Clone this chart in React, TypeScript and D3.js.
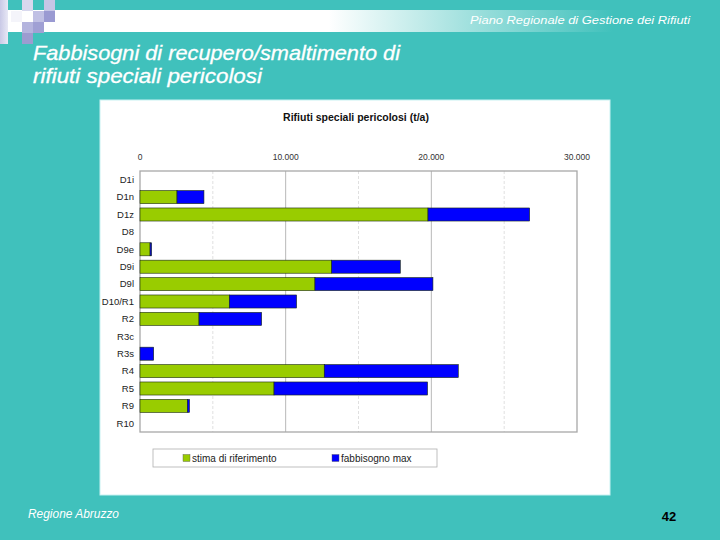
import React from "react";
import * as d3 from "d3";

const categories = ["D1i", "D1n", "D1z", "D8", "D9e", "D9i", "D9l", "D10/R1", "R2", "R3c", "R3s", "R4", "R5", "R9", "R10"];
const stima = [0, 2540, 19770, 0, 690, 13160, 12010, 6130, 4050, 0, 0, 12650, 9200, 3250, 0];
const fabbisogno = [0, 1850, 6980, 0, 110, 4710, 8100, 4620, 4300, 0, 940, 9200, 10540, 150, 0];
const xTicks = [0, 10000, 20000, 30000];
const minorTicks = [5000, 15000, 25000];
const seriesNames = ["stima di riferimento", "fabbisogno max"];
const seriesColors = ["#99cc00", "#0000ff"];

const BG = "#40c1bc";
const SANS = "'Liberation Sans', Arial, sans-serif";

export default function App() {
  const x = d3.scaleLinear().domain([0, 30000]).range([140, 577]);
  const y = d3.scaleBand().domain(categories).range([171, 432]).paddingInner(0.25).paddingOuter(0.125);
  const fmt = (v: number) => (v === 0 ? "0" : d3.format(",")(v).replace(/,/g, "."));
  const stackData = categories.map((c, i) => ({ cat: c, s0: stima[i], s1: fabbisogno[i] }));
  const stacked = d3.stack<any>().keys(["s0", "s1"])(stackData);

  return (
    <svg width={720} height={540} style={{ position: "absolute", left: 0, top: 0 }}>
      <defs>
        <linearGradient id="hdr" x1="0" x2="1" y1="0" y2="0">
          <stop offset="0" stopColor="#ffffff" />
          <stop offset="0.45" stopColor="#ffffff" />
          <stop offset="0.85" stopColor={BG} />
          <stop offset="1" stopColor={BG} />
        </linearGradient>
        <linearGradient id="strip" x1="0" x2="1" y1="0" y2="0">
          <stop offset="0" stopColor="#c9c9e6" />
          <stop offset="1" stopColor="#e8e8f5" />
        </linearGradient>
      </defs>
      <rect x={0} y={0} width={720} height={540} fill={BG} />
      {/* header band */}
      <rect x={8} y={10} width={712} height={22} fill="url(#hdr)" />
      {/* decorative squares */}
      <rect x={0} y={0} width={8} height={44} fill="url(#strip)" />
      <rect x={22} y={0} width={11} height={11} fill="#d8d8ee" />
      <rect x={44} y={0} width={11} height={11} fill="#c6c6e6" />
      <rect x={11} y={11} width={11} height={11} fill="#f4f4fa" />
      <rect x={33} y={11} width={11} height={11} fill="#c0c0e4" />
      <rect x={44} y={11} width={11} height={11} fill="#9a9ad2" />
      <rect x={22} y={22} width={11} height={11} fill="#b4b4de" />
      <rect x={33} y={22} width={11} height={11} fill="#a0a0d4" />
      <rect x={22} y={33} width={11} height={11} fill="#9c9cd0" />
      <text x={690} y={24} textAnchor="end" fill="#ffffff" fontFamily={SANS} fontStyle="italic" fontSize={11.5} textLength={220} lengthAdjust="spacingAndGlyphs">
        Piano Regionale di Gestione dei Rifiuti
      </text>
      <text x={33} y={60} fill="#ffffff" fontFamily={SANS} fontStyle="italic" fontSize={20} textLength={367} lengthAdjust="spacingAndGlyphs" stroke="#ffffff" strokeWidth={0.3}>
        Fabbisogni di recupero/smaltimento di
      </text>
      <text x={33} y={83} fill="#ffffff" fontFamily={SANS} fontStyle="italic" fontSize={20} textLength={229} lengthAdjust="spacingAndGlyphs" stroke="#ffffff" strokeWidth={0.3}>
        rifiuti speciali pericolosi
      </text>

      {/* chart panel */}
      <rect x={100} y={100} width={510} height={395} fill="#ffffff" stroke="#c8f2f2" strokeWidth={1} />
      <text x={356} y={121} textAnchor="middle" fontFamily={SANS} fontWeight="bold" fontSize={10.5} fill="#111">
        Rifiuti speciali pericolosi (t/a)
      </text>

      {/* gridlines */}
      {minorTicks.map((t) => (
        <line key={"m" + t} x1={x(t)} x2={x(t)} y1={171} y2={432} stroke="#d8d8d8" strokeWidth={0.8} strokeDasharray="3,2" />
      ))}
      {xTicks.slice(1, 3).map((t) => (
        <line key={"g" + t} x1={x(t)} x2={x(t)} y1={171} y2={432} stroke="#b8b8b8" strokeWidth={1} />
      ))}
      <rect x={140} y={171} width={x(30000) - 140} height={261} fill="none" stroke="#a8a8a8" strokeWidth={1.3} />

      {xTicks.map((t) => (
        <text key={"t" + t} x={x(t)} y={160} textAnchor="middle" fontFamily={SANS} fontSize={8.5} fill="#333">
          {fmt(t)}
        </text>
      ))}
      {categories.map((c) => (
        <text key={"c" + c} x={134} y={(y(c) as number) + y.bandwidth() / 2 + 3.3} textAnchor="end" fontFamily={SANS} fontSize={9.5} fill="#222">
          {c}
        </text>
      ))}

      {/* bars */}
      {stacked.map((layer, li) =>
        layer.map((d, i) => {
          const w = x(d[1]) - x(d[0]);
          if (w <= 0) return null;
          return (
            <rect
              key={li + "-" + i}
              x={x(d[0])}
              y={y(categories[i]) as number}
              width={w}
              height={y.bandwidth()}
              fill={seriesColors[li]}
              stroke="#1a2a10"
              strokeWidth={0.6}
            />
          );
        })
      )}

      {/* legend */}
      <rect x={153} y={449} width={284} height={18} fill="#ffffff" stroke="#b0b0b0" strokeWidth={0.8} />
      {seriesNames.map((n, i) => {
        const lx = i === 0 ? 183 : 332;
        return (
          <g key={n}>
            <rect x={lx} y={454.5} width={7} height={7} fill={seriesColors[i]} stroke="#555" strokeWidth={0.4} />
            <text x={lx + 9} y={461.5} fontFamily={SANS} fontSize={10} fill="#222">
              {n}
            </text>
          </g>
        );
      })}

      {/* footer */}
      <text x={28} y={518} fill="#ffffff" fontFamily={SANS} fontStyle="italic" fontSize={12} textLength={91} lengthAdjust="spacingAndGlyphs">
        Regione Abruzzo
      </text>
      <text x={669} y={521} textAnchor="middle" fill="#000" fontFamily={SANS} fontWeight="bold" fontSize={13}>
        42
      </text>
    </svg>
  );
}
